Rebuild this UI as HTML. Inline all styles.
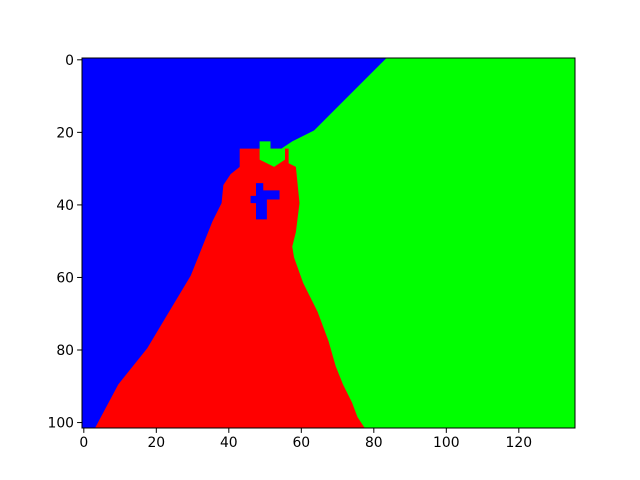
<!DOCTYPE html>
<html><head><meta charset="utf-8">
<style>
html,body{margin:0;padding:0;background:#fff;}
svg{display:block;font-family:"DejaVu Sans","Liberation Sans",sans-serif;}
</style></head>
<body>
<svg id="chart" width="640" height="480" viewBox="0 0 640 480" xmlns="http://www.w3.org/2000/svg">
<g id="plot"></g>
<g id="axes"></g>
</svg>
<script>
// data (edge coords: column, row)
const nCols = 136;
const nRows = 102;
const xTicks = [0, 20, 40, 60, 80, 100, 120];
const yTicks = [0, 20, 40, 60, 80, 100];
const blueRegion = [[0,0],[84,0],[80,4],[76,8],[72,12],[68,16],[64,20],[58,23],[55,25],[50,35],[40,60],[20,102],[0,102]];
const redRegion = [[43.5,25],[57,25],[57,29],[59,30],[60,40],[59,48],[58,52],[58.5,55],[61,62],[65,70],[68,78],[70,85],[72,90],[74.5,95],[76,99],[78,102],[3.6,102],[10,90],[18,80],[24,70],[30,60],[34,50],[36,45],[38.5,40],[39,35],[41,32],[43.5,30]];
const greenBlob = [[49,23],[52,23],[52,25],[56,25],[56,28],[53,30],[49,28]];
const blueBlob = [[48,34.5],[50,34.5],[50,36.5],[54.5,36.5],[54.5,39],[51,39],[51,44.5],[48,44.5],[48,40],[46.5,40],[46.5,38],[48,38]];

const L=82, T=58, W=493, H=370;
const sx = e => L + e*W/nCols;
const sy = r => T + r*H/nRows;
const NS='http://www.w3.org/2000/svg';
const plot=document.getElementById('plot');
const axes=document.getElementById('axes');
function mk(tag, attrs, parent){const el=document.createElementNS(NS,tag);for(const k in attrs)el.setAttribute(k,attrs[k]);parent.appendChild(el);return el;}

const bg=mk('rect',{x:L,y:T,width:W,height:H,fill:'#00ff00'},plot);


function poly(pts, fill, name){
  const p=mk('polygon',{points:pts.map(d=>sx(d[0])+','+sy(d[1])).join(' '),fill:fill},plot);
  
  
}
poly(blueRegion,'#0000ff','blue-region');
poly(redRegion,'#ff0000','red-region');
poly(greenBlob,'#00ff00','green-blob');
poly(blueBlob,'#0000ff','blue-blob');

const frame=mk('rect',{x:L,y:T,width:W,height:H,fill:'none',stroke:'#000','stroke-width':1},axes);



xTicks.forEach(v=>{
  const x=sx(v+0.5);
  const t=mk('line',{x1:x,x2:x,y1:T+H,y2:T+H+4.9,stroke:'#000','stroke-width':1},axes);
  
  
  const lb=mk('text',{x:x,y:T+H+19,'font-size':'13.9','text-anchor':'middle',fill:'#000'},axes);
  lb.textContent=v;
  
  
});
yTicks.forEach(v=>{
  const y=sy(v+0.5);
  const t=mk('line',{x1:L-4.9,x2:L,y1:y,y2:y,stroke:'#000','stroke-width':1},axes);
  
  
  const lb=mk('text',{x:L-8,y:y+5,'font-size':'13.9','text-anchor':'end',fill:'#000'},axes);
  lb.textContent=v;
  
  
});
</script>
</body></html>
